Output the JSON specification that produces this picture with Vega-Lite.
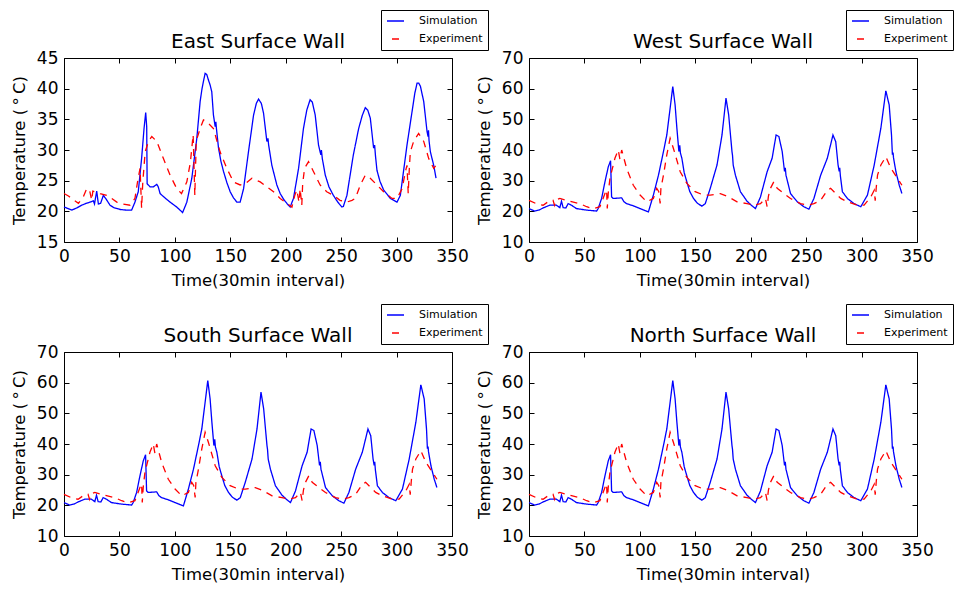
{
  "$schema": "https://vega.github.io/schema/vega-lite/v6.json",
  "background": "white",
  "padding": {"left": 10, "top": 9, "right": 5, "bottom": 5},
  "config": {
    "font": "DejaVu Sans",
    "view": {"stroke": "black", "strokeWidth": 1},
    "axis": {"domain": false, "grid": false, "labelFlush": false, "tickColor": "black", "tickSize": -5, "tickWidth": 1, "labelPadding": 11, "labelFont": "DejaVu Sans", "labelFontSize": 17, "labelColor": "black", "titleFont": "DejaVu Sans", "titleFontSize": 16.5, "titleFontWeight": "normal", "titleColor": "black"},
    "axisX": {"titlePadding": 8},
    "axisY": {"titlePadding": 9},
    "legend": {"strokeColor": "black", "strokeWidth": 1, "fillColor": "white", "padding": 5, "labelFont": "DejaVu Sans", "labelFontSize": 11, "labelColor": "black", "labelOffset": 14, "symbolType": "stroke", "symbolSize": 289, "symbolStrokeWidth": 1.3, "symbolDashOffset": 8, "rowPadding": 6, "clipHeight": 12, "cornerRadius": 0},
    "title": {"font": "DejaVu Sans", "fontSize": 20, "fontWeight": "normal", "color": "black", "anchor": "middle", "baseline": "alphabetic", "offset": 0, "dy": 46}
  },
  "datasets": {
    "east": [
      {"s":"Simulation","t":0,"v":20.7},{"s":"Simulation","t":3,"v":20.5},{"s":"Simulation","t":7,"v":20.2},{"s":"Simulation","t":12,"v":20.6},{"s":"Simulation","t":16,"v":21.0},{"s":"Simulation","t":20,"v":21.3},{"s":"Simulation","t":23.5,"v":21.5},{"s":"Simulation","t":26.5,"v":21.7},{"s":"Simulation","t":27.5,"v":21.2},{"s":"Simulation","t":29.5,"v":23.3},{"s":"Simulation","t":31,"v":21.2},{"s":"Simulation","t":33,"v":21.3},{"s":"Simulation","t":35.5,"v":22.6},{"s":"Simulation","t":38,"v":22.0},{"s":"Simulation","t":41.5,"v":21.0},{"s":"Simulation","t":45,"v":20.6},{"s":"Simulation","t":50.6,"v":20.3},{"s":"Simulation","t":56,"v":20.2},{"s":"Simulation","t":61,"v":20.2},{"s":"Simulation","t":64,"v":21.5},{"s":"Simulation","t":67,"v":23.2},{"s":"Simulation","t":70,"v":28.6},{"s":"Simulation","t":72.2,"v":33.5},{"s":"Simulation","t":73.7,"v":36.1},{"s":"Simulation","t":74.6,"v":33.8},{"s":"Simulation","t":75,"v":24.5},{"s":"Simulation","t":77.6,"v":24.0},{"s":"Simulation","t":80.7,"v":24.0},{"s":"Simulation","t":83.7,"v":24.4},{"s":"Simulation","t":85,"v":24.0},{"s":"Simulation","t":86.7,"v":22.9},{"s":"Simulation","t":89.7,"v":22.4},{"s":"Simulation","t":95.7,"v":21.5},{"s":"Simulation","t":101.7,"v":20.7},{"s":"Simulation","t":107,"v":19.8},{"s":"Simulation","t":110.8,"v":21.5},{"s":"Simulation","t":115.3,"v":25.4},{"s":"Simulation","t":119.8,"v":31.9},{"s":"Simulation","t":122.8,"v":37.9},{"s":"Simulation","t":124.5,"v":40.0},{"s":"Simulation","t":125.8,"v":41.2},{"s":"Simulation","t":127.3,"v":42.5},{"s":"Simulation","t":128.8,"v":42.3},{"s":"Simulation","t":130.3,"v":41.4},{"s":"Simulation","t":131.8,"v":40.6},{"s":"Simulation","t":133.3,"v":39.5},{"s":"Simulation","t":134.8,"v":35.7},{"s":"Simulation","t":136.4,"v":33.8},{"s":"Simulation","t":137,"v":34.6},{"s":"Simulation","t":137.5,"v":33.5},{"s":"Simulation","t":139.4,"v":30.3},{"s":"Simulation","t":141.5,"v":28.2},{"s":"Simulation","t":143.9,"v":26.5},{"s":"Simulation","t":146.9,"v":24.7},{"s":"Simulation","t":149.9,"v":23.2},{"s":"Simulation","t":152.9,"v":22.2},{"s":"Simulation","t":155.9,"v":21.5},{"s":"Simulation","t":158.9,"v":21.5},{"s":"Simulation","t":162,"v":23.7},{"s":"Simulation","t":166.4,"v":29.7},{"s":"Simulation","t":171,"v":35.7},{"s":"Simulation","t":173.5,"v":37.6},{"s":"Simulation","t":175.5,"v":38.3},{"s":"Simulation","t":178,"v":37.6},{"s":"Simulation","t":180,"v":36.0},{"s":"Simulation","t":183,"v":31.4},{"s":"Simulation","t":184,"v":31.9},{"s":"Simulation","t":184.6,"v":30.8},{"s":"Simulation","t":187.5,"v":27.5},{"s":"Simulation","t":192,"v":24.3},{"s":"Simulation","t":195,"v":22.9},{"s":"Simulation","t":198,"v":22.0},{"s":"Simulation","t":201,"v":21.3},{"s":"Simulation","t":204,"v":20.7},{"s":"Simulation","t":207,"v":22.1},{"s":"Simulation","t":211.6,"v":27.0},{"s":"Simulation","t":216,"v":33.5},{"s":"Simulation","t":219,"v":36.5},{"s":"Simulation","t":222,"v":38.2},{"s":"Simulation","t":224,"v":37.8},{"s":"Simulation","t":226.6,"v":35.7},{"s":"Simulation","t":229.6,"v":30.8},{"s":"Simulation","t":231.7,"v":29.2},{"s":"Simulation","t":232.2,"v":30.0},{"s":"Simulation","t":233,"v":28.6},{"s":"Simulation","t":235.7,"v":25.9},{"s":"Simulation","t":239,"v":24.0},{"s":"Simulation","t":243,"v":22.6},{"s":"Simulation","t":247,"v":21.5},{"s":"Simulation","t":250.7,"v":20.7},{"s":"Simulation","t":252,"v":20.8},{"s":"Simulation","t":255.2,"v":22.6},{"s":"Simulation","t":261,"v":29.2},{"s":"Simulation","t":265.8,"v":33.5},{"s":"Simulation","t":269,"v":35.6},{"s":"Simulation","t":271.8,"v":36.9},{"s":"Simulation","t":274,"v":36.5},{"s":"Simulation","t":276.3,"v":35.2},{"s":"Simulation","t":279.3,"v":30.3},{"s":"Simulation","t":280.2,"v":30.8},{"s":"Simulation","t":281,"v":29.0},{"s":"Simulation","t":282.3,"v":26.7},{"s":"Simulation","t":285,"v":24.9},{"s":"Simulation","t":288.3,"v":23.5},{"s":"Simulation","t":294.4,"v":22.1},{"s":"Simulation","t":300.4,"v":21.5},{"s":"Simulation","t":303.4,"v":22.6},{"s":"Simulation","t":309.4,"v":30.8},{"s":"Simulation","t":314,"v":36.3},{"s":"Simulation","t":316.5,"v":39.3},{"s":"Simulation","t":318.5,"v":40.9},{"s":"Simulation","t":320,"v":40.9},{"s":"Simulation","t":321.5,"v":40.4},{"s":"Simulation","t":324.5,"v":37.9},{"s":"Simulation","t":327.5,"v":33.0},{"s":"Simulation","t":328.4,"v":32.2},{"s":"Simulation","t":328.8,"v":33.2},{"s":"Simulation","t":329.3,"v":31.5},{"s":"Simulation","t":330.5,"v":29.7},{"s":"Simulation","t":333.5,"v":27.5},{"s":"Simulation","t":335.6,"v":25.4},
      {"s":"Experiment","t":0,"v":22.9},{"s":"Experiment","t":4,"v":22.5},{"s":"Experiment","t":7,"v":22.1},{"s":"Experiment","t":13,"v":21.3},{"s":"Experiment","t":17.5,"v":22.4},{"s":"Experiment","t":20.5,"v":23.7},{"s":"Experiment","t":23,"v":23.5},{"s":"Experiment","t":25,"v":21.8},{"s":"Experiment","t":26,"v":23.3},{"s":"Experiment","t":28,"v":23.2},{"s":"Experiment","t":32.5,"v":22.9},{"s":"Experiment","t":38.5,"v":22.6},{"s":"Experiment","t":43,"v":22.1},{"s":"Experiment","t":47.6,"v":21.5},{"s":"Experiment","t":53,"v":21.2},{"s":"Experiment","t":59.6,"v":21.0},{"s":"Experiment","t":64,"v":22.1},{"s":"Experiment","t":66.5,"v":25.0},{"s":"Experiment","t":68.6,"v":27.0},{"s":"Experiment","t":70,"v":20.5},{"s":"Experiment","t":71,"v":24.5},{"s":"Experiment","t":73.2,"v":29.7},{"s":"Experiment","t":76.2,"v":31.4},{"s":"Experiment","t":79.2,"v":32.2},{"s":"Experiment","t":83.7,"v":31.4},{"s":"Experiment","t":89.7,"v":28.6},{"s":"Experiment","t":95.7,"v":25.9},{"s":"Experiment","t":101.7,"v":23.7},{"s":"Experiment","t":106,"v":22.9},{"s":"Experiment","t":110.8,"v":24.8},{"s":"Experiment","t":114,"v":28.0},{"s":"Experiment","t":116.5,"v":32.5},{"s":"Experiment","t":118,"v":22.6},{"s":"Experiment","t":119.3,"v":31.5},{"s":"Experiment","t":122.8,"v":33.5},{"s":"Experiment","t":125.8,"v":34.9},{"s":"Experiment","t":128.8,"v":34.6},{"s":"Experiment","t":134.8,"v":33.5},{"s":"Experiment","t":140.8,"v":29.7},{"s":"Experiment","t":146.9,"v":27.0},{"s":"Experiment","t":152.9,"v":24.8},{"s":"Experiment","t":158.9,"v":24.3},{"s":"Experiment","t":163.4,"v":24.5},{"s":"Experiment","t":169.5,"v":25.4},{"s":"Experiment","t":177,"v":24.8},{"s":"Experiment","t":183,"v":24.0},{"s":"Experiment","t":189,"v":23.2},{"s":"Experiment","t":195,"v":22.1},{"s":"Experiment","t":201,"v":21.3},{"s":"Experiment","t":205.6,"v":20.7},{"s":"Experiment","t":208,"v":22.5},{"s":"Experiment","t":210,"v":23.5},{"s":"Experiment","t":212,"v":21.5},{"s":"Experiment","t":213,"v":23.7},{"s":"Experiment","t":214.5,"v":21.0},{"s":"Experiment","t":215.3,"v":24.5},{"s":"Experiment","t":217,"v":27.0},{"s":"Experiment","t":220.6,"v":28.1},{"s":"Experiment","t":225,"v":26.5},{"s":"Experiment","t":231,"v":24.3},{"s":"Experiment","t":237,"v":23.2},{"s":"Experiment","t":243,"v":22.6},{"s":"Experiment","t":249,"v":21.8},{"s":"Experiment","t":255,"v":21.5},{"s":"Experiment","t":259.8,"v":21.8},{"s":"Experiment","t":262.8,"v":22.1},{"s":"Experiment","t":267.3,"v":24.3},{"s":"Experiment","t":271.8,"v":25.9},{"s":"Experiment","t":276.3,"v":25.4},{"s":"Experiment","t":282.3,"v":24.3},{"s":"Experiment","t":288.3,"v":23.2},{"s":"Experiment","t":295.9,"v":22.1},{"s":"Experiment","t":300.4,"v":22.1},{"s":"Experiment","t":305,"v":23.7},{"s":"Experiment","t":308,"v":26.5},{"s":"Experiment","t":309.4,"v":27.5},{"s":"Experiment","t":310.5,"v":22.9},{"s":"Experiment","t":311.5,"v":27.0},{"s":"Experiment","t":312.4,"v":29.7},{"s":"Experiment","t":315.4,"v":31.4},{"s":"Experiment","t":319.9,"v":32.7},{"s":"Experiment","t":324.5,"v":31.4},{"s":"Experiment","t":329,"v":28.6},{"s":"Experiment","t":333.5,"v":27.0},{"s":"Experiment","t":335.6,"v":27.5}
    ],
    "other": [
      {"s":"Simulation","t":0,"v":20.9},{"s":"Simulation","t":5,"v":20.1},{"s":"Simulation","t":9,"v":20.4},{"s":"Simulation","t":12.7,"v":21.1},{"s":"Simulation","t":18.7,"v":22.0},{"s":"Simulation","t":24.7,"v":22.0},{"s":"Simulation","t":27.8,"v":21.2},{"s":"Simulation","t":29.3,"v":23.3},{"s":"Simulation","t":30.8,"v":21.2},{"s":"Simulation","t":33.2,"v":21.1},{"s":"Simulation","t":35.3,"v":22.5},{"s":"Simulation","t":38.3,"v":22.0},{"s":"Simulation","t":42.8,"v":20.9},{"s":"Simulation","t":51.9,"v":20.4},{"s":"Simulation","t":61,"v":20.1},{"s":"Simulation","t":62.4,"v":20.9},{"s":"Simulation","t":65.5,"v":24.2},{"s":"Simulation","t":68.5,"v":29.6},{"s":"Simulation","t":71.5,"v":34.5},{"s":"Simulation","t":73.6,"v":36.5},{"s":"Simulation","t":74.5,"v":24.7},{"s":"Simulation","t":76,"v":24.2},{"s":"Simulation","t":80,"v":24.3},{"s":"Simulation","t":83.6,"v":24.4},{"s":"Simulation","t":85.7,"v":23.1},{"s":"Simulation","t":88.1,"v":22.5},{"s":"Simulation","t":94.1,"v":21.8},{"s":"Simulation","t":100.2,"v":20.9},{"s":"Simulation","t":107.7,"v":19.8},{"s":"Simulation","t":112.2,"v":25.3},{"s":"Simulation","t":116.8,"v":31.8},{"s":"Simulation","t":121.3,"v":39.5},{"s":"Simulation","t":124.3,"v":44.9},{"s":"Simulation","t":127.3,"v":53.6},{"s":"Simulation","t":129.7,"v":60.7},{"s":"Simulation","t":131.8,"v":54.7},{"s":"Simulation","t":133.4,"v":47.1},{"s":"Simulation","t":135.2,"v":39.5},{"s":"Simulation","t":136,"v":41.5},{"s":"Simulation","t":136.6,"v":39.0},{"s":"Simulation","t":137.9,"v":37.3},{"s":"Simulation","t":140,"v":32.6},{"s":"Simulation","t":142.4,"v":29.6},{"s":"Simulation","t":145,"v":26.5},{"s":"Simulation","t":148.4,"v":24.2},{"s":"Simulation","t":152,"v":22.6},{"s":"Simulation","t":156,"v":21.7},{"s":"Simulation","t":159,"v":22.5},{"s":"Simulation","t":163.5,"v":27.5},{"s":"Simulation","t":169.6,"v":35.1},{"s":"Simulation","t":174.1,"v":44.9},{"s":"Simulation","t":177.7,"v":56.9},{"s":"Simulation","t":180.1,"v":51.5},{"s":"Simulation","t":183.1,"v":39.5},{"s":"Simulation","t":183.6,"v":38.2},{"s":"Simulation","t":184.2,"v":35.1},{"s":"Simulation","t":186.2,"v":31.8},{"s":"Simulation","t":190.7,"v":26.4},{"s":"Simulation","t":196.7,"v":23.3},{"s":"Simulation","t":200.5,"v":22.0},{"s":"Simulation","t":204.3,"v":20.9},{"s":"Simulation","t":208.8,"v":24.7},{"s":"Simulation","t":214.8,"v":32.9},{"s":"Simulation","t":219.3,"v":37.3},{"s":"Simulation","t":222.9,"v":44.9},{"s":"Simulation","t":225.4,"v":44.4},{"s":"Simulation","t":228.4,"v":39.5},{"s":"Simulation","t":230.5,"v":33.0},{"s":"Simulation","t":231.2,"v":34.2},{"s":"Simulation","t":231.8,"v":31.8},{"s":"Simulation","t":235.9,"v":25.8},{"s":"Simulation","t":242,"v":23.1},{"s":"Simulation","t":248,"v":21.5},{"s":"Simulation","t":252.5,"v":20.7},{"s":"Simulation","t":257,"v":24.2},{"s":"Simulation","t":263.1,"v":31.8},{"s":"Simulation","t":269.1,"v":37.3},{"s":"Simulation","t":274.2,"v":44.9},{"s":"Simulation","t":276.7,"v":42.7},{"s":"Simulation","t":278.8,"v":35.1},{"s":"Simulation","t":279.8,"v":33.0},{"s":"Simulation","t":280.3,"v":34.2},{"s":"Simulation","t":280.9,"v":31.5},{"s":"Simulation","t":282.7,"v":26.4},{"s":"Simulation","t":287.2,"v":24.2},{"s":"Simulation","t":293.3,"v":22.5},{"s":"Simulation","t":299.3,"v":21.5},{"s":"Simulation","t":305.3,"v":25.3},{"s":"Simulation","t":311.4,"v":35.1},{"s":"Simulation","t":317.4,"v":47.1},{"s":"Simulation","t":321.9,"v":59.3},{"s":"Simulation","t":324.9,"v":54.7},{"s":"Simulation","t":327,"v":44.9},{"s":"Simulation","t":327.8,"v":38.5},{"s":"Simulation","t":328.4,"v":39.2},{"s":"Simulation","t":328.8,"v":37.5},{"s":"Simulation","t":331,"v":32.9},{"s":"Simulation","t":334,"v":28.5},{"s":"Simulation","t":336.4,"v":25.8},
      {"s":"Experiment","t":0,"v":23.6},{"s":"Experiment","t":6.6,"v":22.5},{"s":"Experiment","t":12.7,"v":22.0},{"s":"Experiment","t":17.2,"v":23.1},{"s":"Experiment","t":21.7,"v":23.6},{"s":"Experiment","t":23,"v":22.0},{"s":"Experiment","t":24.5,"v":23.8},{"s":"Experiment","t":27.8,"v":24.2},{"s":"Experiment","t":36.8,"v":23.3},{"s":"Experiment","t":45.9,"v":22.5},{"s":"Experiment","t":52,"v":21.5},{"s":"Experiment","t":57.9,"v":20.9},{"s":"Experiment","t":64,"v":21.5},{"s":"Experiment","t":68.5,"v":25.8},{"s":"Experiment","t":70,"v":27.0},{"s":"Experiment","t":70.6,"v":20.9},{"s":"Experiment","t":71.5,"v":26.0},{"s":"Experiment","t":73,"v":30.7},{"s":"Experiment","t":77.5,"v":37.3},{"s":"Experiment","t":80.5,"v":40.0},{"s":"Experiment","t":82,"v":37.0},{"s":"Experiment","t":83.6,"v":40.0},{"s":"Experiment","t":88.1,"v":34.0},{"s":"Experiment","t":94.1,"v":28.5},{"s":"Experiment","t":100.2,"v":25.3},{"s":"Experiment","t":106.2,"v":23.1},{"s":"Experiment","t":112.2,"v":24.2},{"s":"Experiment","t":115.2,"v":27.5},{"s":"Experiment","t":117,"v":26.5},{"s":"Experiment","t":118.3,"v":22.6},{"s":"Experiment","t":119,"v":27.5},{"s":"Experiment","t":121.3,"v":31.8},{"s":"Experiment","t":124.3,"v":38.4},{"s":"Experiment","t":127.3,"v":43.8},{"s":"Experiment","t":130.3,"v":40.5},{"s":"Experiment","t":136.4,"v":32.9},{"s":"Experiment","t":142.4,"v":29.1},{"s":"Experiment","t":149.9,"v":26.4},{"s":"Experiment","t":157.5,"v":25.3},{"s":"Experiment","t":163.5,"v":25.3},{"s":"Experiment","t":172.6,"v":25.8},{"s":"Experiment","t":180.1,"v":24.7},{"s":"Experiment","t":187.7,"v":23.1},{"s":"Experiment","t":196.7,"v":22.5},{"s":"Experiment","t":202.7,"v":22.0},{"s":"Experiment","t":208.8,"v":22.5},{"s":"Experiment","t":213.3,"v":24.2},{"s":"Experiment","t":214.8,"v":21.5},{"s":"Experiment","t":216,"v":25.0},{"s":"Experiment","t":217.8,"v":27.5},{"s":"Experiment","t":220.8,"v":29.6},{"s":"Experiment","t":223.9,"v":27.5},{"s":"Experiment","t":229.9,"v":25.8},{"s":"Experiment","t":235.9,"v":24.2},{"s":"Experiment","t":245,"v":22.5},{"s":"Experiment","t":251,"v":22.0},{"s":"Experiment","t":257,"v":22.5},{"s":"Experiment","t":263.1,"v":23.6},{"s":"Experiment","t":269.1,"v":26.9},{"s":"Experiment","t":272.1,"v":27.5},{"s":"Experiment","t":275.1,"v":26.4},{"s":"Experiment","t":281.2,"v":24.2},{"s":"Experiment","t":287.2,"v":23.1},{"s":"Experiment","t":296.3,"v":22.0},{"s":"Experiment","t":302.3,"v":22.0},{"s":"Experiment","t":308.3,"v":24.7},{"s":"Experiment","t":311.4,"v":26.9},{"s":"Experiment","t":312.3,"v":23.5},{"s":"Experiment","t":313.3,"v":28.0},{"s":"Experiment","t":314.4,"v":31.8},{"s":"Experiment","t":317.4,"v":35.1},{"s":"Experiment","t":321.9,"v":37.8},{"s":"Experiment","t":326.5,"v":34.0},{"s":"Experiment","t":332.5,"v":30.7},{"s":"Experiment","t":336.4,"v":28.5}
    ]
  },
  "columns": 2,
  "spacing": {"row": 110, "column": 77},
  "bounds": "flush",
  "resolve": {"scale": {"color": "independent", "strokeDash": "independent"}, "legend": {"color": "independent", "strokeDash": "independent"}},
  "concat": [
    {
      "title": "East Surface Wall",
      "width": 388, "height": 184,
      "data": {"name": "east"},
      "resolve": {"axis": {"x": "independent", "y": "independent"}},
      "layer": [
        {
          "mark": {"type": "line", "opacity": 0},
          "encoding": {
            "x": {"field": "t", "type": "quantitative", "scale": {"domain": [0, 350], "nice": false}, "axis": {"orient": "top", "labels": false, "title": null, "values": [0,50,100,150,200,250,300,350]}},
            "y": {"field": "v", "type": "quantitative", "scale": {"domain": [15, 45], "nice": false, "zero": false}, "axis": {"orient": "right", "labels": false, "title": null, "values": [15,20,25,30,35,40,45]}},
            "detail": {"field": "s"}
          }
        },
        {
          "mark": {"type": "line", "strokeWidth": 1.3},
          "encoding": {
            "x": {"field": "t", "type": "quantitative", "scale": {"domain": [0, 350], "nice": false}, "axis": {"orient": "bottom", "title": "Time(30min interval)", "values": [0,50,100,150,200,250,300,350]}},
            "y": {"field": "v", "type": "quantitative", "scale": {"domain": [15, 45], "nice": false, "zero": false}, "axis": {"orient": "left", "title": "Temperature (\u2009°\u2009C)", "values": [15,20,25,30,35,40,45]}},
            "color": {"field": "s", "type": "nominal", "scale": {"domain": ["Simulation", "Experiment"], "range": ["#0000ff", "#ff0000"]}, "legend": {"orient": "none", "legendX": 317, "legendY": -48, "title": null}},
            "strokeDash": {"field": "s", "type": "nominal", "scale": {"domain": ["Simulation", "Experiment"], "range": [[1, 0], [7, 6]]}, "legend": {"orient": "none", "legendX": 317, "legendY": -48, "title": null}}
          }
        }
      ]
    },
    {
      "title": "West Surface Wall",
      "width": 388, "height": 184,
      "data": {"name": "other"},
      "resolve": {"axis": {"x": "independent", "y": "independent"}},
      "layer": [
        {
          "mark": {"type": "line", "opacity": 0},
          "encoding": {
            "x": {"field": "t", "type": "quantitative", "scale": {"domain": [0, 350], "nice": false}, "axis": {"orient": "top", "labels": false, "title": null, "values": [0,50,100,150,200,250,300,350]}},
            "y": {"field": "v", "type": "quantitative", "scale": {"domain": [10, 70], "nice": false, "zero": false}, "axis": {"orient": "right", "labels": false, "title": null, "values": [10,20,30,40,50,60,70]}},
            "detail": {"field": "s"}
          }
        },
        {
          "mark": {"type": "line", "strokeWidth": 1.3},
          "encoding": {
            "x": {"field": "t", "type": "quantitative", "scale": {"domain": [0, 350], "nice": false}, "axis": {"orient": "bottom", "title": "Time(30min interval)", "values": [0,50,100,150,200,250,300,350]}},
            "y": {"field": "v", "type": "quantitative", "scale": {"domain": [10, 70], "nice": false, "zero": false}, "axis": {"orient": "left", "title": "Temperature (\u2009°\u2009C)", "values": [10,20,30,40,50,60,70]}},
            "color": {"field": "s", "type": "nominal", "scale": {"domain": ["Simulation", "Experiment"], "range": ["#0000ff", "#ff0000"]}, "legend": {"orient": "none", "legendX": 317, "legendY": -48, "title": null}},
            "strokeDash": {"field": "s", "type": "nominal", "scale": {"domain": ["Simulation", "Experiment"], "range": [[1, 0], [7, 6]]}, "legend": {"orient": "none", "legendX": 317, "legendY": -48, "title": null}}
          }
        }
      ]
    },
    {
      "title": "South Surface Wall",
      "width": 388, "height": 184,
      "data": {"name": "other"},
      "resolve": {"axis": {"x": "independent", "y": "independent"}},
      "layer": [
        {
          "mark": {"type": "line", "opacity": 0},
          "encoding": {
            "x": {"field": "t", "type": "quantitative", "scale": {"domain": [0, 350], "nice": false}, "axis": {"orient": "top", "labels": false, "title": null, "values": [0,50,100,150,200,250,300,350]}},
            "y": {"field": "v", "type": "quantitative", "scale": {"domain": [10, 70], "nice": false, "zero": false}, "axis": {"orient": "right", "labels": false, "title": null, "values": [10,20,30,40,50,60,70]}},
            "detail": {"field": "s"}
          }
        },
        {
          "mark": {"type": "line", "strokeWidth": 1.3},
          "encoding": {
            "x": {"field": "t", "type": "quantitative", "scale": {"domain": [0, 350], "nice": false}, "axis": {"orient": "bottom", "title": "Time(30min interval)", "values": [0,50,100,150,200,250,300,350]}},
            "y": {"field": "v", "type": "quantitative", "scale": {"domain": [10, 70], "nice": false, "zero": false}, "axis": {"orient": "left", "title": "Temperature (\u2009°\u2009C)", "values": [10,20,30,40,50,60,70]}},
            "color": {"field": "s", "type": "nominal", "scale": {"domain": ["Simulation", "Experiment"], "range": ["#0000ff", "#ff0000"]}, "legend": {"orient": "none", "legendX": 317, "legendY": -48, "title": null}},
            "strokeDash": {"field": "s", "type": "nominal", "scale": {"domain": ["Simulation", "Experiment"], "range": [[1, 0], [7, 6]]}, "legend": {"orient": "none", "legendX": 317, "legendY": -48, "title": null}}
          }
        }
      ]
    },
    {
      "title": "North Surface Wall",
      "width": 388, "height": 184,
      "data": {"name": "other"},
      "resolve": {"axis": {"x": "independent", "y": "independent"}},
      "layer": [
        {
          "mark": {"type": "line", "opacity": 0},
          "encoding": {
            "x": {"field": "t", "type": "quantitative", "scale": {"domain": [0, 350], "nice": false}, "axis": {"orient": "top", "labels": false, "title": null, "values": [0,50,100,150,200,250,300,350]}},
            "y": {"field": "v", "type": "quantitative", "scale": {"domain": [10, 70], "nice": false, "zero": false}, "axis": {"orient": "right", "labels": false, "title": null, "values": [10,20,30,40,50,60,70]}},
            "detail": {"field": "s"}
          }
        },
        {
          "mark": {"type": "line", "strokeWidth": 1.3},
          "encoding": {
            "x": {"field": "t", "type": "quantitative", "scale": {"domain": [0, 350], "nice": false}, "axis": {"orient": "bottom", "title": "Time(30min interval)", "values": [0,50,100,150,200,250,300,350]}},
            "y": {"field": "v", "type": "quantitative", "scale": {"domain": [10, 70], "nice": false, "zero": false}, "axis": {"orient": "left", "title": "Temperature (\u2009°\u2009C)", "values": [10,20,30,40,50,60,70]}},
            "color": {"field": "s", "type": "nominal", "scale": {"domain": ["Simulation", "Experiment"], "range": ["#0000ff", "#ff0000"]}, "legend": {"orient": "none", "legendX": 317, "legendY": -48, "title": null}},
            "strokeDash": {"field": "s", "type": "nominal", "scale": {"domain": ["Simulation", "Experiment"], "range": [[1, 0], [7, 6]]}, "legend": {"orient": "none", "legendX": 317, "legendY": -48, "title": null}}
          }
        }
      ]
    }
  ]
}
